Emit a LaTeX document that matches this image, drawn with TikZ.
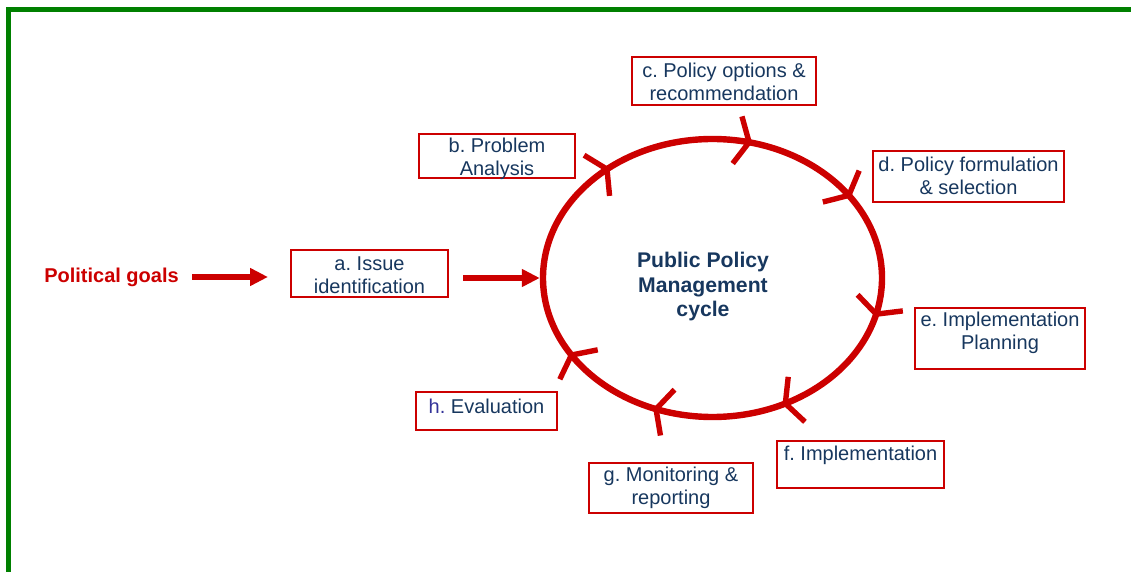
\documentclass[tikz,border=0pt]{standalone}
\usepackage{fontspec}
\setmainfont{Liberation Sans}
\frenchspacing
\usetikzlibrary{arrows.meta,shapes.geometric,calc}
\definecolor{cycred}{RGB}{204,0,0}
\definecolor{boxtext}{RGB}{23,55,94}
\definecolor{hblue}{RGB}{51,51,153}
\definecolor{framegreen}{RGB}{0,128,0}
\begin{document}
\begin{tikzpicture}[x=0.5pt,y=-0.5pt,
    pbox/.style={draw=cycred, line width=1pt, rectangle, inner sep=0pt},
    ptext/.style={text=boxtext, align=center, font=\fontsize{10}{11.5}\selectfont, inner sep=0pt},
    flow/.style={draw=cycred, line width=3pt, -{Triangle[length=9pt,width=8.5pt]}},
    cyclebarb/.style={draw=cycred, line width=2.7pt, -{Straight Barb[length=6pt,width=24pt]}}]
    \useasboundingbox (0,0) rectangle (1131,572);
    % Frame
    \draw[framegreen, line width=2.5pt] (8.5,572) -- (8.5,9.5) -- (1131,9.5);
    % Cycle
    \node[ellipse, draw=cycred, line width=3.2pt, minimum width=169.5pt, minimum height=139pt, inner sep=0pt] (cyc) at (712.5,278) {};
    \node[text=boxtext, font=\fontsize{10.6}{12.25}\selectfont\bfseries, align=center, inner sep=0pt] (ctitle) at (703,287) {Public Policy\\Management\\cycle};
    % Arrow marks on the cycle
    \foreach \t in {232.6,283.5,324.7,16.3,65.6,110.5,147.5}
        \draw[cyclebarb] (cyc.center) ++(\t-8:169.5 and 139) arc[start angle=\t-8, end angle=\t, x radius=169.5, y radius=139];
    % Boxes
    \node[pbox, minimum width=78.5pt, minimum height=23.5pt] (pa) at (369.5,273.5) {};
    \node[ptext] (ta) at (369.5,275.5) {a. Issue\\identification};
    \node[pbox, minimum width=78pt, minimum height=22pt] (pb) at (497,156) {};
    \node[ptext] (tb) at (497,159) {b. Problem\\Analysis};
    \node[pbox, minimum width=92pt, minimum height=24pt] (pc) at (724,81) {};
    \node[ptext] (tc) at (724,81.5) {c. Policy options \&\\recommendation};
    \node[pbox, minimum width=95.5pt, minimum height=25.5pt] (pd) at (968.5,176.5) {};
    \node[ptext] (td) at (968.5,175.5) {d. Policy formulation\\\& selection};
    \node[pbox, minimum width=85pt, minimum height=30.5pt] (pe) at (1000,338.5) {};
    \node[ptext] (te) at (1000,332.5) {e. Implementation\\Planning};
    \node[pbox, minimum width=83.5pt, minimum height=23.5pt] (pf) at (860.5,464.5) {};
    \node[ptext] (tf) at (860.5,455) {f. Implementation};
    \node[pbox, minimum width=82pt, minimum height=25pt] (pg) at (671,488) {};
    \node[ptext] (tg) at (671,488) {g. Monitoring \&\\reporting};
    \node[pbox, minimum width=70.5pt, minimum height=19pt] (ph) at (486.5,411) {};
    \node[ptext] (th) at (486.5,406.5) {\textcolor{hblue}{h.} Evaluation};
    % Inputs
    \node[text=cycred, font=\bfseries, inner sep=0pt] (goals) at (111.5,277) {Political goals};
    \draw[flow, shorten <=6.5pt, shorten >=11pt] (goals.east) -- (goals.east -| pa.west);
    \draw[flow, shorten <=7pt] (pa.east |- cyc.west) -- (cyc.west);
\end{tikzpicture}
\end{document}
